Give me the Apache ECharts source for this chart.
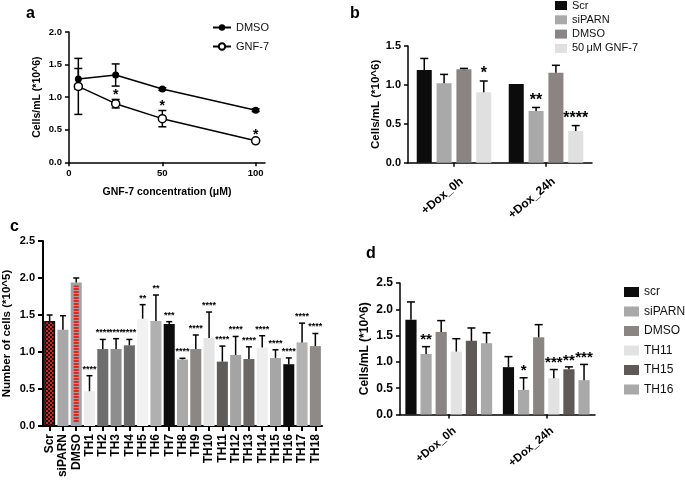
<!DOCTYPE html>
<html><head><meta charset="utf-8">
<script src="https://cdn.jsdelivr.net/npm/echarts@6/dist/echarts.min.js"></script>
<style>html,body{margin:0;padding:0;background:#fff}#c{width:685px;height:482px}</style>
</head><body><div id="c"></div>
<script>
// ---------- Panel a data ----------
const concA = [5, 25, 50, 100];
const dmsoA = [1.28, 1.34, 1.125, 0.80];
const dmsoErrA = [0.16, 0.17, 0.02, 0.02];
const gnfA = [1.165, 0.90, 0.67, 0.33];
const gnfErrA = [0.43, 0.065, 0.125, 0.02];
const gnfSigA = ['', '*', '*', '*'];
const xTicksA = [0, 50, 100];

// ---------- Panel b data ----------
const groupsB = ['+Dox_0h', '+Dox_24h'];
const namesB = ['Scr', 'siPARN', 'DMSO', '50\u2009\u03bcM GNF-7'];
const scrB = [1.19, 1.01];
const scrErrB = [0.15, 0];
const siparnB = [1.02, 0.665];
const siparnErrB = [0.115, 0.045];
const dmsoB = [1.20, 1.157];
const dmsoErrB = [0.012, 0.095];
const gnfB = [0.905, 0.407];
const gnfErrB = [0.145, 0.07];
const scrSigB = ['', ''];
const siparnSigB = ['', '**'];
const dmsoSigB = ['', ''];
const gnfSigB = ['*', '****'];

// ---------- Panel c data ----------
const catsC = ['Scr','siPARN','DMSO','TH1','TH2','TH3','TH4','TH5','TH6','TH7','TH8','TH9','TH10','TH11','TH12','TH13','TH14','TH15','TH16','TH17','TH18'];
const meanC = [1.42, 1.30, 1.94, 0.47, 1.04, 1.04, 1.09, 1.45, 1.42, 1.38, 0.90, 1.04, 1.19, 0.87, 0.96, 0.905, 1.06, 0.92, 0.835, 1.13, 1.08];
const errC  = [0.08, 0.19, 0.06, 0.21, 0.13, 0.14, 0.08, 0.19, 0.35, 0.03, 0.015, 0.19, 0.35, 0.21, 0.25, 0.165, 0.16, 0.11, 0.085, 0.26, 0.17];
const sigC  = ['', '', '', '****', '****', '****', '****', '**', '**', '***', '****', '****', '****', '****', '****', '****', '****', '****', '****', '****', '****'];

// ---------- Panel d data ----------
const groupsD = ['+Dox_0h', '+Dox_24h'];
const namesD = ['scr', 'siPARN', 'DMSO', 'TH11', 'TH15', 'TH16'];
const scrD = [1.80, 0.90];
const scrErrD = [0.34, 0.20];
const siparnD = [1.15, 0.468];
const siparnErrD = [0.14, 0.23];
const dmsoD = [1.57, 1.468];
const dmsoErrD = [0.215, 0.24];
const th11D = [1.196, 0.69];
const th11ErrD = [0.245, 0.165];
const th15D = [1.40, 0.86];
const th15ErrD = [0.245, 0.045];
const th16D = [1.354, 0.652];
const th16ErrD = [0.20, 0.30];
const scrSigD = ['', ''];
const siparnSigD = ['**', '*'];
const dmsoSigD = ['', ''];
const th11SigD = ['', '***'];
const th15SigD = ['', '**'];
const th16SigD = ['', '***'];

// ---------- styles ----------
const FONT = 'Liberation Sans, Arial, sans-serif';
const colB = ['#0c0c0c', '#a9a9a9', '#8a8582', '#e0e0e0'];
const colD = ['#0c0c0c', '#a9a9a9', '#8a8582', '#e2e2e2', '#5f5a58', '#a9a9a9'];
const colC = ['PAT_CHECK', '#a8a8a8', 'PAT_STRIPE', '#ececec', '#6d6d6d', '#8e8e8e', '#6a6a6a', '#f2f2f2', '#b0b0b0', '#0d0d0d', '#a9a9a9', '#8a8784', '#e4e4e4', '#5f5c5a', '#a4a4a4', '#6b6866', '#eeeeee', '#a6a6a6', '#0d0d0d', '#b3b3b3', '#8d8a87'];

function checkPattern() {
  const cv = document.createElement('canvas'); cv.width = 4; cv.height = 4;
  const g = cv.getContext('2d');
  g.fillStyle = '#111'; g.fillRect(0, 0, 4, 4);
  g.fillStyle = '#d8251c'; g.fillRect(0, 0, 2, 2); g.fillRect(2, 2, 2, 2);
  return { image: cv, repeat: 'repeat' };
}
function stripePattern() {
  const cv = document.createElement('canvas'); cv.width = 4; cv.height = 3;
  const g = cv.getContext('2d');
  g.fillStyle = '#a2a2a2'; g.fillRect(0, 0, 4, 3);
  g.fillStyle = '#e0271d'; g.fillRect(0, 0, 4, 2);
  return { image: cv, repeat: 'repeat' };
}
function cStyle(i) {
  const c = colC[i];
  if (c === 'PAT_CHECK') return { color: checkPattern(), borderColor: '#111', borderWidth: 1.5 };
  if (c === 'PAT_STRIPE') return { color: stripePattern(), borderColor: '#a2a2a2', borderWidth: 3 };
  return { color: c };
}

function axisBase(fs, lw) {
  return {
    axisLine: { show: true, onZero: false, lineStyle: { color: '#000', width: lw } },
    axisTick: { show: true, inside: false, length: 4, lineStyle: { color: '#000', width: lw } },
    axisLabel: { color: '#000', fontWeight: 'bold', fontSize: fs, fontFamily: FONT },
    splitLine: { show: false }
  };
}
function merge(a, b) { return Object.assign({}, a, b); }

// error bar series for grouped bars on category axis
function barErr(name, ai, means, errs, sigs, idx, n, catGap, barGap, cap, starFs, starOff, lw) {
  return {
    type: 'custom', name: name, xAxisIndex: ai, yAxisIndex: ai, z: 5, silent: true,
    encode: { x: 0, y: 1 },
    data: means.map((m, i) => [i, m, errs[i]]),
    renderItem: function (params, api) {
      const ci = api.value(0), m = api.value(1), e = api.value(2);
      const sig = sigs[params.dataIndex];
      const band = api.size([1, 0])[0];
      const gw = band * (1 - catGap);
      const bw = gw / (n + (n - 1) * barGap);
      const p0 = api.coord([ci, m]);
      const x = p0[0] - gw / 2 + idx * bw * (1 + barGap) + bw / 2;
      const y1 = api.coord([ci, m + e])[1];
      const ch = [];
      if (e > 0) {
        ch.push({ type: 'line', shape: { x1: x, y1: p0[1], x2: x, y2: y1 }, style: { stroke: '#000', lineWidth: lw } });
        ch.push({ type: 'line', shape: { x1: x - cap, y1: y1, x2: x + cap, y2: y1 }, style: { stroke: '#000', lineWidth: lw } });
      }
      if (sig) ch.push({ type: 'text', x: x, y: y1 + starOff,
        style: { text: sig, align: 'center', verticalAlign: 'bottom', fontSize: starFs, fontWeight: 'bold', fontFamily: FONT, fill: '#000' } });
      return { type: 'group', children: ch };
    }
  };
}
// symmetric error bars on value x axis (panel a)
function xyErr(name, xs, means, errs, sigs) {
  return {
    type: 'custom', name: name, xAxisIndex: 0, yAxisIndex: 0, z: 1, silent: true,
    encode: { x: 0, y: 1 },
    data: xs.map((x, i) => [x, means[i], errs[i]]),
    renderItem: function (params, api) {
      const x = api.value(0), m = api.value(1), e = api.value(2);
      const top = api.coord([x, m + e]), bot = api.coord([x, m - e]);
      const cap = 4, ch = [];
      const st = { stroke: '#000', lineWidth: 1.5 };
      ch.push({ type: 'line', shape: { x1: top[0], y1: top[1], x2: bot[0], y2: bot[1] }, style: st });
      ch.push({ type: 'line', shape: { x1: top[0] - cap, y1: top[1], x2: top[0] + cap, y2: top[1] }, style: st });
      ch.push({ type: 'line', shape: { x1: bot[0] - cap, y1: bot[1], x2: bot[0] + cap, y2: bot[1] }, style: st });
      const sig = sigs ? sigs[params.dataIndex] : '';
      if (sig) ch.push({ type: 'text', x: top[0], y: top[1] + 3,
        style: { text: sig, align: 'center', verticalAlign: 'bottom', fontSize: 14, fontWeight: 'bold', fontFamily: FONT, fill: '#000' } });
      return { type: 'group', children: ch };
    }
  };
}

const series = [];
// Panel a
series.push(xyErr('ea1', concA, dmsoA, dmsoErrA, null));
series.push(xyErr('ea2', concA, gnfA, gnfErrA, gnfSigA));
series.push({ type: 'line', name: 'a|DMSO', xAxisIndex: 0, yAxisIndex: 0, z: 3,
  data: concA.map((x, i) => [x, dmsoA[i]]), symbol: 'circle', symbolSize: 7,
  lineStyle: { color: '#000', width: 1.5 }, itemStyle: { color: '#000' } });
series.push({ type: 'line', name: 'a|GNF-7', xAxisIndex: 0, yAxisIndex: 0, z: 3,
  data: concA.map((x, i) => [x, gnfA[i]]), symbol: 'circle', symbolSize: 8,
  lineStyle: { color: '#000', width: 1.5 }, itemStyle: { color: '#fff', borderColor: '#000', borderWidth: 1.5 } });

// Panel b
const valsB = [scrB, siparnB, dmsoB, gnfB];
const errsB = [scrErrB, siparnErrB, dmsoErrB, gnfErrB];
const sigsB = [scrSigB, siparnSigB, dmsoSigB, gnfSigB];
const catGapB = 0.19, barGapB = 0.32;
namesB.forEach((nm, i) => {
  series.push({ type: 'bar', name: 'b|' + nm, xAxisIndex: 1, yAxisIndex: 1, data: valsB[i],
    barCategoryGap: (catGapB * 100) + '%', barGap: (barGapB * 100) + '%', itemStyle: { color: colB[i] } });
});
namesB.forEach((nm, i) => series.push(barErr('eb' + i, 1, valsB[i], errsB[i], sigsB[i], i, 4, catGapB, barGapB, 4, 16, 1, 1.5)));

// Panel c
const catGapC = 0.17;
series.push({ type: 'bar', name: 'c|cells', xAxisIndex: 2, yAxisIndex: 2,
  data: meanC.map((v, i) => ({ value: v, itemStyle: cStyle(i) })),
  barCategoryGap: (catGapC * 100) + '%' });
series.push(barErr('ec', 2, meanC, errC, sigC, 0, 1, catGapC, 0, 3, 9, -2, 1.5));

// Panel d
const valsD = [scrD, siparnD, dmsoD, th11D, th15D, th16D];
const errsD = [scrErrD, siparnErrD, dmsoErrD, th11ErrD, th15ErrD, th16ErrD];
const sigsD = [scrSigD, siparnSigD, dmsoSigD, th11SigD, th15SigD, th16SigD];
const catGapD = 0.11, barGapD = 0.35;
namesD.forEach((nm, i) => {
  series.push({ type: 'bar', name: 'd|' + nm, xAxisIndex: 3, yAxisIndex: 3, data: valsD[i],
    barCategoryGap: (catGapD * 100) + '%', barGap: (barGapD * 100) + '%', itemStyle: { color: colD[i] } });
});
namesD.forEach((nm, i) => series.push(barErr('ed' + i, 3, valsD[i], errsD[i], sigsD[i], i, 6, catGapD, barGapD, 4, 15, 1, 1.5)));

const strip = n => n.slice(2);
const titleStyle = { fontFamily: FONT, fontWeight: 'bold', fontSize: 16, color: '#000' };

const option = {
  animation: false,
  backgroundColor: '#fff',
  textStyle: { fontFamily: FONT },
  title: [
    { text: 'a', left: 21, top: 1, textStyle: titleStyle },
    { text: 'b', left: 345, top: 1, textStyle: titleStyle },
    { text: 'c', left: 5, top: 214, textStyle: titleStyle },
    { text: 'd', left: 361, top: 241, textStyle: titleStyle }
  ],
  legend: [
    { data: ['a|DMSO', 'a|GNF-7'], formatter: strip, orient: 'vertical', left: 212, top: 22, padding: 0,
      itemWidth: 18, itemHeight: 8, itemGap: 8, selectedMode: false,
      textStyle: { fontSize: 11, color: '#111', fontFamily: FONT } },
    { data: namesB.map(n => 'b|' + n), formatter: strip, orient: 'vertical', left: 555, top: 0, padding: 0,
      itemWidth: 12, itemHeight: 9, itemGap: 3.3, selectedMode: false, icon: 'rect',
      textStyle: { fontSize: 11, color: '#111', fontFamily: FONT } },
    { data: namesD.map(n => 'd|' + n), formatter: strip, orient: 'vertical', left: 624, top: 286, padding: 0,
      itemWidth: 15, itemHeight: 10, itemGap: 7.5, selectedMode: false, icon: 'rect',
      textStyle: { fontSize: 12, color: '#111', fontFamily: FONT } }
  ],
  grid: [
    { left: 69, top: 32, width: 196, height: 130.3 },
    { left: 408, top: 46, width: 184, height: 116.7 },
    { left: 43, top: 241, width: 279, height: 185 },
    { left: 400, top: 283, width: 195, height: 131.5 }
  ],
  xAxis: [
    merge(axisBase(9.5, 1.5), { type: 'value', gridIndex: 0, min: 0, max: 105,
      axisTick: { show: true, length: 4, customValues: xTicksA, lineStyle: { color: '#000', width: 1.5 } },
      axisLabel: { customValues: xTicksA, color: '#000', fontWeight: 'bold', fontSize: 9.5, fontFamily: FONT, margin: 6 },
      name: 'GNF-7 concentration (\u03bcM)', nameLocation: 'middle', nameGap: 24,
      nameTextStyle: { fontWeight: 'bold', fontSize: 10.5, color: '#000', fontFamily: FONT } }),
    merge(axisBase(12, 1.5), { type: 'category', gridIndex: 1, data: groupsB,
      axisTick: { show: true, alignWithLabel: true, length: 4, lineStyle: { color: '#000', width: 1.5 } },
      axisLabel: { rotate: 40, interval: 0, margin: 8, verticalAlign: 'top', padding: [6, 0, 0, 0],
        color: '#000', fontWeight: 'bold', fontSize: 12, fontFamily: FONT } }),
    merge(axisBase(12, 2), { type: 'category', gridIndex: 2, data: catsC,
      axisTick: { show: true, alignWithLabel: true, length: 5, lineStyle: { color: '#000', width: 2 } },
      axisLabel: { rotate: 90, interval: 0, margin: 8, color: '#000', fontWeight: 'bold', fontSize: 12, fontFamily: FONT } }),
    merge(axisBase(11.5, 1.5), { type: 'category', gridIndex: 3, data: groupsD,
      axisTick: { show: true, alignWithLabel: true, length: 4, lineStyle: { color: '#000', width: 1.5 } },
      axisLabel: { rotate: 40, interval: 0, margin: 8, verticalAlign: 'top', padding: [3, 0, 0, 0],
        color: '#000', fontWeight: 'bold', fontSize: 11.5, fontFamily: FONT } })
  ],
  yAxis: [
    merge(axisBase(9.5, 1.5), { type: 'value', gridIndex: 0, min: 0, max: 2, interval: 0.5,
      axisLabel: { color: '#000', fontWeight: 'bold', fontSize: 9.5, fontFamily: FONT, margin: 7, formatter: v => v.toFixed(1) },
      name: 'Cells/mL (*10^6)', nameLocation: 'middle', nameGap: 26, nameRotate: 90,
      nameTextStyle: { fontWeight: 'bold', fontSize: 10.5, color: '#000', fontFamily: FONT } }),
    merge(axisBase(11, 1.5), { type: 'value', gridIndex: 1, min: 0, max: 1.5, interval: 0.5,
      axisLabel: { color: '#000', fontWeight: 'bold', fontSize: 11, fontFamily: FONT, margin: 7, formatter: v => v.toFixed(1) },
      name: 'Cells/mL (*10^6)', nameLocation: 'middle', nameGap: 26, nameRotate: 90,
      nameTextStyle: { fontWeight: 'bold', fontSize: 11.5, color: '#000', fontFamily: FONT } }),
    merge(axisBase(11, 2), { type: 'value', gridIndex: 2, min: 0, max: 2.5, interval: 0.5,
      axisTick: { show: true, length: 5, lineStyle: { color: '#000', width: 2 } },
      axisLabel: { color: '#000', fontWeight: 'bold', fontSize: 11, fontFamily: FONT, margin: 8, formatter: v => v.toFixed(1) },
      name: 'Number of cells (*10^5)', nameLocation: 'middle', nameGap: 30, nameRotate: 90,
      nameTextStyle: { fontWeight: 'bold', fontSize: 11.5, color: '#000', fontFamily: FONT } }),
    merge(axisBase(12, 1.5), { type: 'value', gridIndex: 3, min: 0, max: 2.5, interval: 0.5,
      axisLabel: { color: '#000', fontWeight: 'bold', fontSize: 12, fontFamily: FONT, margin: 7, formatter: v => v.toFixed(1) },
      name: 'Cells/mL (*10^6)', nameLocation: 'middle', nameGap: 29, nameRotate: 90,
      nameTextStyle: { fontWeight: 'bold', fontSize: 12, color: '#000', fontFamily: FONT } })
  ],
  series: series
};

const chart = echarts.init(document.getElementById('c'), null, { renderer: 'canvas', width: 685, height: 482 });
chart.setOption(option);
</script></body></html>
